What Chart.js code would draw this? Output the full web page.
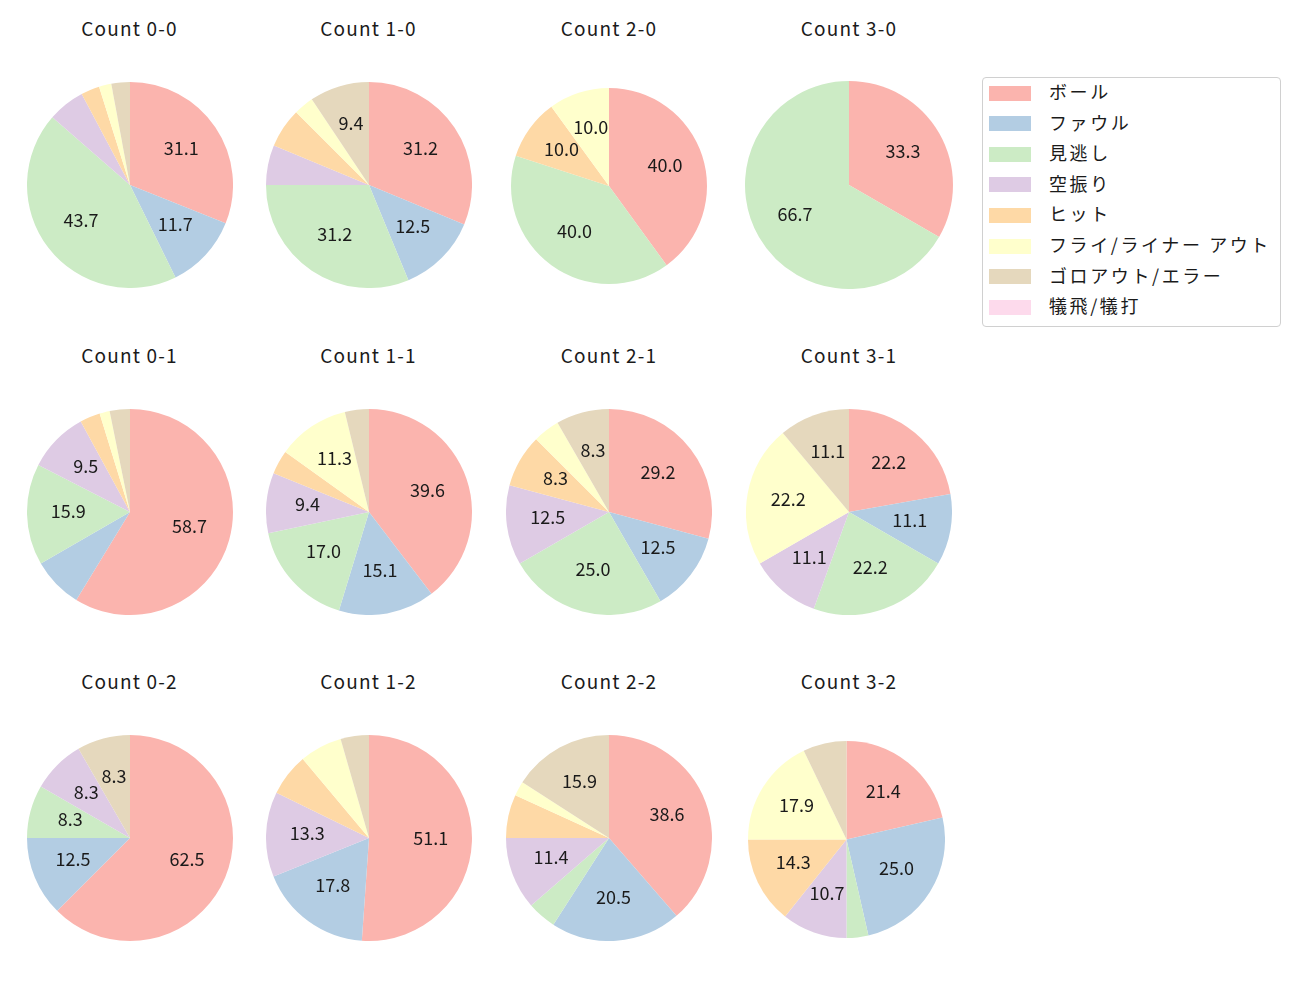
<!DOCTYPE html>
<html>
<head>
<meta charset="utf-8">
<script src="https://cdn.jsdelivr.net/npm/chart.js@4.4.0/dist/chart.umd.min.js"></script>
<style>
  body { margin: 0; background: #fff; width: 1300px; height: 1000px; position: relative; overflow: hidden;
         font-family: 'Noto Sans CJK JP', 'Noto Sans', sans-serif; color: #1a1a1a; }
  .pie { position: absolute; }
  .title { position: absolute; width: 240px; text-align: center; font-size: 19px; line-height: 24px; letter-spacing: 1.2px; }
  #legend { position: absolute; left: 982px; top: 77px; width: 297px; height: 248px;
            border: 1px solid #d0d0d0; border-radius: 4px; }
  .lg-row { position: absolute; left: 6px; height: 24px; display: flex; align-items: center; }
  .lg-sw { width: 42px; height: 15px; margin-right: 18px; }
  .lg-tx { font-size: 18px; letter-spacing: 2.6px; white-space: pre; position: relative; top: -2px; }
</style>
</head>
<body>
<div id="legend"></div>
<script>
// ── Datos ──
const categorias = ['ボール', 'ファウル', '見逃し', '空振り', 'ヒット', 'フライ/ライナー アウト', 'ゴロアウト/エラー', '犠飛/犠打'];
const colores = ['#fbb4ae', '#b3cde3', '#ccebc5', '#decbe4', '#fed9a6', '#ffffcc', '#e5d8bd', '#fddaec'];
const titulos = ['Count 0-0', 'Count 1-0', 'Count 2-0', 'Count 3-0',
                 'Count 0-1', 'Count 1-1', 'Count 2-1', 'Count 3-1',
                 'Count 0-2', 'Count 1-2', 'Count 2-2', 'Count 3-2'];

// pitch counts per category (same order as categorias)
const c00 = [32, 12, 45, 6, 3, 2, 3, 0];
const c10 = [10, 4, 10, 2, 2, 1, 3, 0];
const c20 = [4, 0, 4, 0, 1, 1, 0, 0];
const c30 = [1, 0, 2, 0, 0, 0, 0, 0];
const c01 = [37, 5, 10, 6, 2, 1, 2, 0];
const c11 = [21, 8, 9, 5, 2, 6, 2, 0];
const c21 = [7, 3, 6, 3, 2, 1, 2, 0];
const c31 = [2, 1, 2, 1, 0, 2, 1, 0];
const c02 = [15, 3, 2, 2, 0, 0, 2, 0];
const c12 = [23, 8, 0, 6, 3, 3, 2, 0];
const c22 = [17, 9, 2, 5, 3, 1, 7, 0];
const c32 = [6, 7, 1, 3, 4, 5, 2, 0];
const series = [c00, c10, c20, c30, c01, c11, c21, c31, c02, c12, c22, c32];

// ── Layout (centros y radios) ──
const colX = [129.5, 368.5, 609, 849];
const rowY = [185, 512, 838];
const ajustes = { 2: { cx: 609, cy: 185.5, r: 98 }, 3: { r: 104 }, 11: { cx: 846.5, cy: 839, r: 98.5 } };

// redondeo tipo matplotlib (mitad al par)
function fmtPct(p) {
  const v = p * 10;
  const f = Math.floor(v);
  let n;
  if (Math.abs(v - f - 0.5) < 1e-9) n = (f % 2 === 0) ? f : f + 1;
  else n = Math.round(v);
  return (n / 10).toFixed(1);
}

const pctLabels = {
  id: 'pctLabels',
  afterDatasetsDraw(chart) {
    const ctx = chart.ctx;
    const data = chart.data.datasets[0].data;
    const total = data.reduce((a, b) => a + b, 0);
    const meta = chart.getDatasetMeta(0);
    ctx.save();
    ctx.font = "18px 'Noto Sans CJK JP', sans-serif";
    ctx.fillStyle = '#1a1a1a';
    ctx.textAlign = 'center';
    ctx.textBaseline = 'middle';
    meta.data.forEach((arc, i) => {
      const pct = data[i] / total * 100;
      if (pct < 8) return;
      const mid = (arc.startAngle + arc.endAngle) / 2;
      const r = arc.outerRadius * 0.6;
      ctx.fillText(fmtPct(pct), arc.x + Math.cos(mid) * r, arc.y + Math.sin(mid) * r - 2.5);
    });
    ctx.restore();
  }
};

series.forEach((vals, i) => {
  const col = i % 4, row = Math.floor(i / 4);
  const a = ajustes[i] || {};
  const cx = a.cx ?? colX[col], cy = a.cy ?? rowY[row], r = a.r ?? 103;

  const t = document.createElement('div');
  t.className = 'title';
  t.textContent = titulos[i];
  t.style.left = (colX[col] - 120) + 'px';
  t.style.top = (rowY[row] - 156 - 13.5) + 'px';
  document.body.appendChild(t);

  const canvas = document.createElement('canvas');
  canvas.className = 'pie';
  canvas.width = Math.round(2 * r);
  canvas.height = Math.round(2 * r);
  canvas.style.left = (cx - r) + 'px';
  canvas.style.top = (cy - r) + 'px';
  document.body.appendChild(canvas);

  new Chart(canvas.getContext('2d'), {
    type: 'pie',
    data: {
      labels: categorias,
      datasets: [{ data: vals, backgroundColor: colores, borderWidth: 0 }]
    },
    options: {
      responsive: false,
      animation: false,
      devicePixelRatio: 1,
      layout: { padding: 0 },
      plugins: { legend: { display: false }, tooltip: { enabled: false } }
    },
    plugins: [pctLabels]
  });
});

// ── Leyenda ──
const legend = document.getElementById('legend');
categorias.forEach((c, i) => {
  const row = document.createElement('div');
  row.className = 'lg-row';
  row.style.top = (3 + i * 30.6) + 'px';
  row.innerHTML = `<div class="lg-sw" style="background:${colores[i]}"></div><div class="lg-tx">${c}</div>`;
  legend.appendChild(row);
});
</script>
</body>
</html>
